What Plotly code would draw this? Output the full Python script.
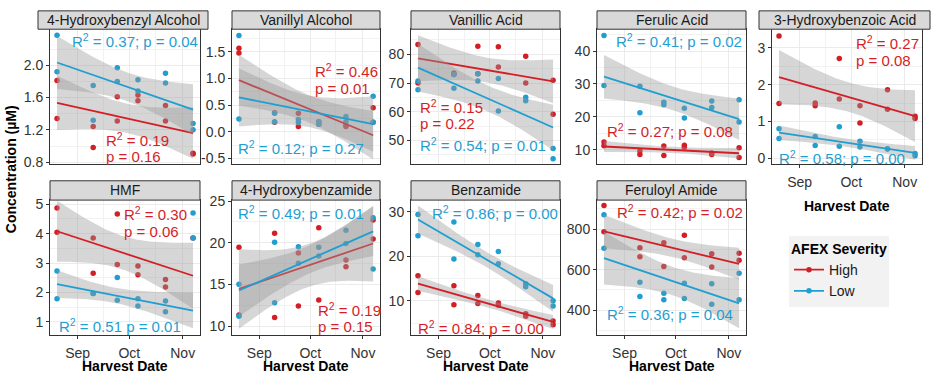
import numpy as np
import pandas as pd
import plotly.graph_objects as go

# ---------------- data ----------------
harvest_dates = ["2016-08-20", "2016-09-10", "2016-09-24", "2016-10-06", "2016-10-22", "2016-11-07"]
severities = ["High", "Low"]
compounds = ["4-Hydroxybenzyl Alcohol", "Vanillyl Alcohol", "Vanillic Acid", "Ferulic Acid",
             "3-Hydroxybenzoic Acid", "HMF", "4-Hydroxybenzamide", "Benzamide", "Feruloyl Amide"]

# two replicates per harvest date (None = no visible sample)
hb_alcohol_high = [1.81, 1.34, 1.24, 0.98, 1.61, 1.31, 1.63, 1.56, 1.50, 1.31, 0.91, 0.90]
hb_alcohol_low = [2.37, 1.92, 1.75, 1.32, 1.97, 1.80, 1.82, 1.68, 1.90, 1.78, 1.28, 1.20]
vanillyl_alcohol_high = [1.57, 1.48, 0.36, 0.18, 0.35, 0.10, 0.19, 0.14, 0.12, 0.10, 0.45, 0.18]
vanillyl_alcohol_low = [1.81, 0.24, 0.35, 0.19, 0.23, 0.18, 0.19, 0.14, 0.29, 0.19, 0.67, 0.18]
vanillic_acid_high = [83.4, 70.0, 73.5, 73.0, 82.8, 73.2, 82.6, 75.6, 79.3, 70.0, 71.0, 59.1]
vanillic_acid_low = [70.7, 67.7, 68.2, 73.0, 70.7, 73.2, 71.6, 60.3, 65.1, 63.8, 47.2, 43.7]
ferulic_acid_high = [12.3, 11.2, 9.6, 8.5, 11.1, 8.2, 11.3, 10.7, 8.5, 9.0, 10.6, 7.6]
ferulic_acid_low = [44.8, 29.5, 29.3, 21.2, 24.4, 23.7, 22.6, 19.6, 24.8, 22.8, 25.2, 18.4]
hbz_acid_high = [3.32, 1.49, 1.50, 1.43, 2.71, 1.61, 1.43, 0.96, 1.86, 1.33, 1.14, 1.08]
hbz_acid_low = [0.80, 0.54, 0.59, 0.35, 0.86, 0.33, 0.46, 0.31, 0.26, 0.25, 0.13, 0.07]
hmf_high = [4.87, 4.05, 3.85, 2.65, 4.67, 2.95, 2.90, 2.60, 2.44, 2.18, 3.85, None]
hmf_low = [2.73, 1.78, 1.96, 1.96, 2.51, 1.73, 1.78, 1.54, 1.71, 1.34, 4.70, 3.85]
hb_amide_high = [19.46, 11.35, 21.15, 11.04, 18.77, 12.43, 21.81, 13.16, 17.93, 17.12, 22.73, 20.47]
hb_amide_low = [15.04, 11.20, 20.08, 12.81, 19.54, 17.54, 19.46, 18.43, 21.50, 19.92, 23.00, 16.85]
benzamide_high = [15.65, 11.87, 13.39, 9.13, 11.22, 9.41, 9.48, 8.98, 7.09, 6.52, 5.43, 4.63]
benzamide_low = [29.41, 24.63, 27.74, 19.41, 22.67, 20.35, 21.09, 18.33, 13.83, 13.17, 10.00, 8.83]
feruloyl_amide_high = [916, 787, 708, 663, 732, 616, 770, 659, 678, 613, 681, 646]
feruloyl_amide_low = [871, 706, 538, 467, 483, 451, 533, 457, 530, 429, 582, 451]

# points shown but not used for the regression in the reference (HMF, Low, last harvest)
fit_excluded = {("HMF", "Low"): [10, 11]}

r2_high = [0.19, 0.46, 0.15, 0.27, 0.27, 0.30, 0.19, 0.84, 0.42]
p_high = [0.16, 0.01, 0.22, 0.08, 0.08, 0.06, 0.15, 0.00, 0.02]
r2_low = [0.37, 0.12, 0.54, 0.41, 0.58, 0.51, 0.49, 0.86, 0.36]
p_low = [0.04, 0.27, 0.01, 0.02, 0.00, 0.01, 0.01, 0.00, 0.04]

x_tick_vals = ["2016-09-01", "2016-10-01", "2016-11-01"]
x_tick_text = ["Sep", "Oct", "Nov"]
x_minor_vals = ["2016-09-16", "2016-10-16"]

y_ticks = [
    [0.8, 1.2, 1.6, 2.0],
    [-0.5, 0.0, 0.5, 1.0, 1.5],
    [50, 60, 70, 80],
    [10, 20, 30, 40],
    [0, 1, 2, 3],
    [1, 2, 3, 4, 5],
    [10, 15, 20, 25],
    [10, 20, 30],
    [400, 600, 800],
]
y_tick_text = [
    ["0.8", "1.2", "1.6", "2.0"],
    ["-0.5", "0.0", "0.5", "1.0", "1.5"],
    ["50", "60", "70", "80"],
    ["10", "20", "30", "40"],
    ["0", "1", "2", "3"],
    ["1", "2", "3", "4", "5"],
    ["10", "15", "20", "25"],
    ["10", "20", "30"],
    ["400", "600", "800"],
]

series = {
    ("4-Hydroxybenzyl Alcohol", "High"): hb_alcohol_high,
    ("4-Hydroxybenzyl Alcohol", "Low"): hb_alcohol_low,
    ("Vanillyl Alcohol", "High"): vanillyl_alcohol_high,
    ("Vanillyl Alcohol", "Low"): vanillyl_alcohol_low,
    ("Vanillic Acid", "High"): vanillic_acid_high,
    ("Vanillic Acid", "Low"): vanillic_acid_low,
    ("Ferulic Acid", "High"): ferulic_acid_high,
    ("Ferulic Acid", "Low"): ferulic_acid_low,
    ("3-Hydroxybenzoic Acid", "High"): hbz_acid_high,
    ("3-Hydroxybenzoic Acid", "Low"): hbz_acid_low,
    ("HMF", "High"): hmf_high,
    ("HMF", "Low"): hmf_low,
    ("4-Hydroxybenzamide", "High"): hb_amide_high,
    ("4-Hydroxybenzamide", "Low"): hb_amide_low,
    ("Benzamide", "High"): benzamide_high,
    ("Benzamide", "Low"): benzamide_low,
    ("Feruloyl Amide", "High"): feruloyl_amide_high,
    ("Feruloyl Amide", "Low"): feruloyl_amide_low,
}

# ---------------- style / layout ----------------
W, H = 931, 377
FONT = "Liberation Sans, Arial, Helvetica, sans-serif"
COLORS = {"High": "#D41E26", "Low": "#1F9ED1"}
RIBBON = "rgba(153,153,153,0.4)"
INK = "#333333"

col_px = [(50, 200), (232, 380), (411, 560), (597, 746), (772, 922)]
row_px = [(23, 163), (200, 340)]
panel_pos = [(0, 0), (0, 1), (0, 2), (0, 3), (0, 4), (1, 0), (1, 1), (1, 2), (1, 3)]
strip_px = [(38, 208), (232, 380), (411, 560), (597, 746), (759, 930),
            (50, 200), (232, 380), (411, 560), (597, 746)]
strip_rows = [(4, 23), (180, 200)]
y_ranges = [[0.7725, 2.446], [-0.611, 1.926], [41.7, 88.73], [5.5, 46.68], [-0.165, 3.506],
            [0.54, 5.141], [8.92, 25.12], [2.24, 32.67], [276.2, 942.9]]
x_range = ["2016-08-15 22:00:00", "2016-11-11 01:00:00"]
with_x_labels = [False, False, False, False, True, True, True, True, True]

label_layout = {
    (0, "High"): (105, 137, "two"), (0, "Low"): (71, 35, "semi"),
    (1, "High"): (314, 66, "two"), (1, "Low"): (237, 145, "semi"),
    (2, "High"): (419, 103, "two"), (2, "Low"): (419, 142, "semi"),
    (3, "High"): (606, 128, "semi"), (3, "Low"): (615, 35, "semi"),
    (4, "High"): (855, 37, "two"), (4, "Low"): (778, 156, "semi"),
    (5, "High"): (123, 214, "two"), (5, "Low"): (58, 330, "space"),
    (6, "High"): (317, 313, "two"), (6, "Low"): (237, 213, "semi"),
    (7, "High"): (417, 332, "semi"), (7, "Low"): (431, 213, "semi"),
    (8, "High"): (616, 212, "semi"), (8, "Low"): (606, 317, "semi"),
}

T975 = {6: 2.447, 7: 2.365, 8: 2.306, 9: 2.262, 10: 2.228, 11: 2.201, 12: 2.179}

rep_dates = pd.to_datetime([d for d in harvest_dates for _ in range(2)])
day0 = pd.to_datetime(harvest_dates[0])
rep_days = np.array([(d - day0).days for d in rep_dates], dtype=float)
span_days = float((pd.to_datetime(harvest_dates[-1]) - day0).days)


def lm_fit(days, vals):
    n = len(days)
    xbar = days.mean()
    sxx = ((days - xbar) ** 2).sum()
    b1 = ((days - xbar) * (vals - vals.mean())).sum() / sxx
    b0 = vals.mean() - b1 * xbar
    resid = vals - (b0 + b1 * days)
    s = np.sqrt((resid ** 2).sum() / (n - 2))
    grid = np.linspace(0.0, span_days, 80)
    pred = b0 + b1 * grid
    se = s * np.sqrt(1.0 / n + (grid - xbar) ** 2 / sxx)
    t = T975[n - 2]
    return grid, pred, pred - t * se, pred + t * se


def px_x(v):
    return v / W


def px_y(v):
    return 1 - v / H


def minor_between(ticks, rng):
    step = ticks[1] - ticks[0]
    cands = [ticks[0] - step / 2] + [t + step / 2 for t in ticks]
    return [c for c in cands if rng[0] < c < rng[1]]


fig = go.Figure()
layout = {}
shapes = []
annotations = []

for i, comp in enumerate(compounds):
    k = i + 1
    suffix = "" if k == 1 else str(k)
    xref, yref = "x" + suffix, "y" + suffix
    r, c = panel_pos[i]
    x0, x1 = col_px[c]
    y0, y1 = row_px[r]

    layout["xaxis" + suffix] = dict(
        domain=[px_x(x0), px_x(x1)], anchor=yref, type="date", range=x_range,
        tickvals=x_tick_vals, ticktext=x_tick_text,
        showticklabels=with_x_labels[i], ticks="outside" if with_x_labels[i] else "",
        ticklen=3, tickwidth=1, tickcolor=INK, ticklabelstandoff=2,
        tickfont=dict(size=14, color=INK, family=FONT),
        showgrid=True, gridcolor="#EBEBEB", gridwidth=1.1,
        minor=dict(tickvals=x_minor_vals, showgrid=True, gridcolor="#F2F2F2", gridwidth=0.6, ticks=""),
        showline=True, mirror=True, linecolor=INK, linewidth=1, zeroline=False, fixedrange=True,
    )
    layout["yaxis" + suffix] = dict(
        domain=[px_y(y1), px_y(y0)], anchor=xref, range=y_ranges[i],
        tickvals=y_ticks[i], ticktext=y_tick_text[i], ticks="outside",
        ticklen=3, tickwidth=1, tickcolor=INK,
        tickfont=dict(size=14, color=INK, family=FONT),
        showgrid=True, gridcolor="#EBEBEB", gridwidth=1.1,
        minor=dict(tickvals=minor_between(y_ticks[i], y_ranges[i]), showgrid=True,
                   gridcolor="#F2F2F2", gridwidth=0.6, ticks=""),
        showline=True, mirror=True, linecolor=INK, linewidth=1, zeroline=False, fixedrange=True,
    )

    # points first (ribbons are drawn over them, as in the reference)
    for sev in severities:
        vals = series[(comp, sev)]
        xs = [d for d, v in zip(rep_dates, vals) if v is not None]
        ys = [v for v in vals if v is not None]
        fig.add_trace(go.Scatter(x=xs, y=ys, mode="markers", xaxis=xref, yaxis=yref,
                                 marker=dict(size=5.5, color=COLORS[sev]), showlegend=False,
                                 hoverinfo="skip"))

    for sev in severities:
        vals = series[(comp, sev)]
        excl = fit_excluded.get((comp, sev), [])
        idx = [j for j, v in enumerate(vals) if v is not None and j not in excl]
        days = rep_days[idx]
        yv = np.array([vals[j] for j in idx], dtype=float)
        grid, pred, lo, hi = lm_fit(days, yv)
        gdates = day0 + pd.to_timedelta(grid, unit="D")
        gx = list(gdates) + list(gdates[::-1])
        gy = list(hi) + list(lo[::-1])
        fig.add_trace(go.Scatter(x=gx, y=gy, mode="lines", fill="toself", fillcolor=RIBBON,
                                 line=dict(width=0), xaxis=xref, yaxis=yref, showlegend=False,
                                 hoverinfo="skip"))
        fig.add_trace(go.Scatter(x=list(gdates), y=pred, mode="lines", xaxis=xref, yaxis=yref,
                                 line=dict(color=COLORS[sev], width=1.8), showlegend=False,
                                 hoverinfo="skip"))

    # strip
    sx0, sx1 = strip_px[i]
    sy0, sy1 = strip_rows[r]
    shapes.append(dict(type="rect", xref="paper", yref="paper", x0=px_x(sx0), x1=px_x(sx1),
                       y0=px_y(sy1), y1=px_y(sy0), fillcolor="#D9D9D9",
                       line=dict(color=INK, width=1)))
    annotations.append(dict(x=px_x((sx0 + sx1) / 2), y=px_y((sy0 + sy1) / 2), xref="paper",
                            yref="paper", text=comp, showarrow=False, xanchor="center",
                            yanchor="middle", font=dict(size=14, color="#1A1A1A", family=FONT)))

    # R^2 / p labels
    for sev, r2s, ps in (("High", r2_high, p_high), ("Low", r2_low, p_low)):
        lx, ly, style = label_layout[(i, sev)]
        r2txt = "R<sup>2</sup> = %.2f" % r2s[i]
        ptxt = "p = %.2f" % ps[i]
        if style == "two":
            lines = [r2txt, ptxt]
        elif style == "semi":
            lines = [r2txt + "; " + ptxt]
        else:
            lines = [r2txt + " " + ptxt]
        for li, txt in enumerate(lines):
            annotations.append(dict(x=px_x(lx), y=px_y(ly + 18 * li), xref="paper", yref="paper",
                                    text=txt, showarrow=False, xanchor="left", yanchor="middle",
                                    borderpad=0,
                                    font=dict(size=15, color=COLORS[sev], family=FONT)))

    # x-axis titles
    if with_x_labels[i]:
        ty = 206 if r == 0 else 372
        annotations.append(dict(x=px_x((x0 + x1) / 2), y=px_y(ty), xref="paper", yref="paper",
                                text="<b>Harvest Date</b>", showarrow=False, xanchor="center",
                                yanchor="middle", borderpad=0,
                                font=dict(size=14, color="#000000", family=FONT)))

annotations.append(dict(x=px_x(11), y=px_y(168), xref="paper", yref="paper",
                        text="<b>Concentration (µM)</b>", showarrow=False, textangle=-90,
                        xanchor="center", yanchor="middle",
                        font=dict(size=14, color="#000000", family=FONT)))

# legend entries
for sev in severities:
    fig.add_trace(go.Scatter(x=[None], y=[None], mode="lines+markers", name=sev,
                             line=dict(color=COLORS[sev], width=1.8),
                             marker=dict(size=5.5, color=COLORS[sev]), showlegend=True))

fig.update_layout(
    width=W, height=H, margin=dict(l=0, r=0, t=0, b=0),
    paper_bgcolor="white", plot_bgcolor="white",
    font=dict(family=FONT, size=14, color="#1A1A1A"),
    shapes=shapes, annotations=annotations,
    legend=dict(x=px_x(789), y=px_y(237), xanchor="left", yanchor="top",
                bgcolor="#F2F2F2", borderwidth=0, itemwidth=30, tracegroupgap=2,
                title=dict(text="<b>AFEX Severity</b>", font=dict(size=14, color="#000000")),
                font=dict(size=14, color="#1A1A1A")),
    **layout,
)

fig.write_html("out.html", config={"displayModeBar": False},
               post_script="document.body.style.margin='0';document.body.style.overflow='hidden';")
